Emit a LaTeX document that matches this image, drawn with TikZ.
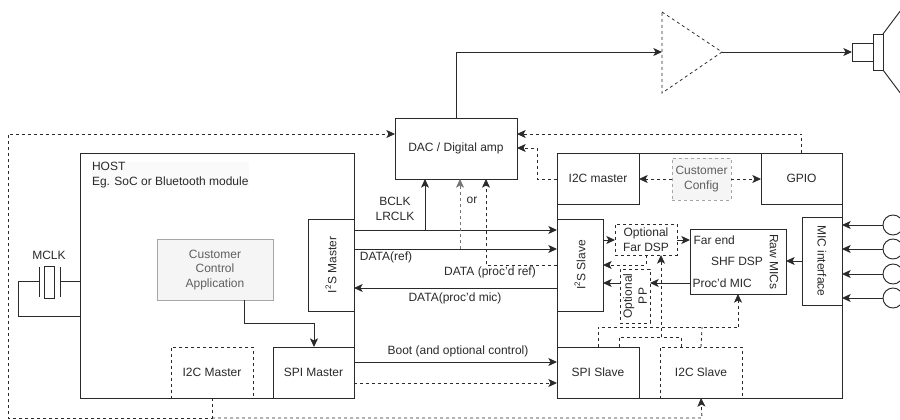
\documentclass[tikz,border=0pt]{standalone}
\usepackage{fontspec}
\setmainfont{Liberation Sans}
\usetikzlibrary{arrows.meta}
\definecolor{ink}{HTML}{2A2A2A}
\definecolor{txt}{HTML}{2A2A2A}
\definecolor{ccfill}{HTML}{F5F5F5}
\definecolor{ccline}{HTML}{A6A6A6}
\definecolor{cctxt}{HTML}{5F5F5F}
\definecolor{hostbg}{HTML}{FAFAFB}
\tikzset{
  every node/.style={font=\fontsize{9}{11.2}\selectfont,text=txt,inner sep=0pt,outer sep=0pt},
  boxs/.style={draw=ink,line width=0.7pt,fill=white,align=center},
  dbox/.style={boxs,dash pattern=on 2.25pt off 2.25pt,line width=0.6pt},
  ccbox/.style={draw=ccline,line width=0.7pt,fill=ccfill,text=cctxt,align=center},
  lab/.style={align=center},
  wire/.style={draw=ink,line width=0.7pt},
  arr/.style={wire,-{Stealth[length=6.5pt,width=6pt,inset=1.6pt]}},
  darr/.style={arr,line width=0.6pt,dash pattern=on 2.25pt off 2.25pt},
  dwire/.style={wire,line width=0.6pt,dash pattern=on 2.25pt off 2.25pt},
  greyd/.style={darr,draw=ink!65}
}
\newcommand{\areabox}[7][]{\node[#2,#1,minimum width={(#5-#4)*0.75pt},minimum height={(#7-#6)*0.75pt}] (#3) at ({(#4+#5)/2},{(#6+#7)/2})}
\begin{document}
\begin{tikzpicture}[x=0.75pt,y=-0.75pt]
\useasboundingbox (0,0) rectangle (900,420);
\clip (0,0) rectangle (900,420);
% main blocks
\areabox{boxs}{host}{80}{354}{153}{398} {};
\areabox{boxs}{dut}{557}{842}{153}{398} {};
\areabox{boxs}{dac}{395}{517}{118}{179} {DAC / Digital amp};
\node[anchor=north west,lab,align=left,fill=hostbg] (hostlabel) at (92,162.5) {HOST\\Eg. SoC or Bluetooth module};
\areabox{ccbox}{app}{157}{273}{239.5}{300.5} {Customer\\Control\\Application};
\areabox[]{boxs}{i2sm}{308}{354}{219}{311} {};
\node[rotate=90] (i2smt) at (i2sm) {I\textsuperscript{2}S Master};
\areabox{dbox}{i2cm}{171}{253}{347}{398} {I2C Master};
\areabox{boxs}{spim}{273}{354}{347}{398} {SPI Master};
% right block
\areabox{boxs}{i2cmr}{557}{639}{153}{204} {I2C master};
\areabox{boxs}{gpio}{761}{842}{153}{204} {GPIO};
\areabox[dash pattern=on 2.25pt off 2.25pt]{ccbox}{cfg}{672}{731}{158}{200} {Customer\\Config};
\areabox{boxs}{i2ss}{557}{603}{219}{311} {};
\node[rotate=90] (i2sst) at (i2ss) {I\textsuperscript{2}S Slave};
\areabox{dbox}{far}{615}{677}{224}{255} {Optional\\Far DSP};
\areabox{boxs}{shf}{690}{786}{229}{294} {};
\node (shft) at (737,261.5) {SHF DSP};
\node[anchor=west] (fart) at (693.5,240) {Far end};
\node[anchor=west] (proct) at (692.5,283) {Proc'd MIC};
\node[rotate=-90] (rawt) at (774,262) {Raw MICs};
\areabox{boxs}{mic}{802}{842}{217}{305} {};
\node[rotate=-90] (mict) at (mic) {MIC interface};
\areabox{dbox}{pp}{620}{650}{269}{323} {};
\node[rotate=90,align=center] (ppt) at (pp) {Optional\\PP};
\areabox{boxs}{spis}{557}{639}{347}{398} {SPI Slave};
\areabox{dbox}{i2cs}{660}{742}{347}{398} {I2C Slave};
% microphones
\foreach \n/\y in {a/225,b/249,c/274,d/298}{
  \node[draw=ink,line width=0.7pt,circle,minimum size=20*0.75pt,fill=white] (m\n) at (893,\y) {};
  \draw[arr] (m\n.west) -- (mic.east |- m\n.west);
}
% amplifier
\coordinate (ampt) at (662,12);
\coordinate (ampb) at (662,93);
\coordinate (ampi) at (662,52);
\coordinate (ampo) at (722,52);
\draw[dwire] (ampt) -- (ampo) -- (ampb) -- cycle;
\draw[arr] (dac.north) -- (dac.north |- ampi) -- (ampi);
% speaker
\areabox{boxs}{spk}{852}{873}{43}{61} {};
\areabox{boxs}{spkb}{873}{883}{34}{70} {};
\draw[wire] (spkb.north east) -- (901,10);
\draw[wire] (spkb.south east) -- (901,94);
\draw[arr] (ampo) -- (spk.west);
% crystal
\node[draw=ink,line width=0.7pt,minimum width=10*0.75pt,minimum height=32*0.75pt] (xtal) at (49,282) {};
\coordinate (pl) at (39,281);
\coordinate (pr) at (60,281);
\draw[wire] (39,267) -- (39,297);
\draw[wire] (60,267) -- (60,297);
\draw[wire] (pl) -- (18,281) -- (18,316) -- (host.west |- 0,316);
\draw[wire] (pr) -- (host.west |- pr);
\node (mclk) at (49,255) {MCLK};
% host connectors
\draw[arr] (app.south -| 244,0) -- (244,323) -- (314,323) -- (spim.north -| 314,0);
\draw[arr] (i2sm.east |- 0,230) -- (i2ss.west |- 0,230);
\draw[arr] (425,230) -- (dac.south -| 425,0);
\draw[arr] (i2sm.east |- 0,249) -- (i2ss.west |- 0,249);
\draw[greyd] (460,249) -- (dac.south -| 460,0);
\draw[darr] (i2ss.west |- 0,265.5) -- (486,265.5) -- (dac.south -| 486,0);
\draw[arr] (i2ss.west |- 0,288) -- (i2sm.east |- 0,288);
\draw[arr] (spim.east |- 0,362) -- (spis.west |- 0,362);
\draw[darr] (spim.east |- 0,383) -- (spis.west |- 0,383);
% DAC control
\draw[darr] (i2cmr.west |- 0,179) -- (537,179) -- (537,148) -- (dac.east |- 0,148);
\draw[darr] (gpio.north) -- (gpio.north |- 0,134) -- (dac.east |- 0,134);
\draw[darr] (i2cm.south) -- (212,418) -- (8,418) -- (8,134) -- (dac.west |- 0,134);
\draw[darr] (212,418) -- (702,418) -- (i2cs.south);
\draw[darr] (cfg.west) -- (i2cmr.east |- cfg.west);
\draw[darr] (cfg.east) -- (gpio.west |- cfg.east);
% inner connectors
\draw[arr] (i2ss.east |- 0,240) -- (far.west |- 0,240);
\draw[arr] (far.east |- 0,240) -- (shf.west |- 0,240);
\draw[darr] (far.south -| 646,0) -- (646,265) -- (i2ss.east |- 0,265);
\draw[arr] (pp.west |- 0,283) -- (i2ss.east |- 0,283);
\draw[arr] (shf.west |- 0,283) -- (pp.east |- 0,283);
\draw[arr] (mic.west |- 0,261) -- (shf.east |- 0,261);
\draw[dwire] (spis.north -| 598,0) -- (598,327) -- (738,327);
\draw[darr] (738,327) -- (shf.south -| 738,0);
\draw[dwire] (i2cs.north) -- (702,327);
\draw[dwire] (spis.north -| 619,0) -- (619,337) -- (661,337);
\draw[darr] (661,337) -- (far.south -| 661,0);
\draw[dwire] (i2cs.north -| 681,0) -- (681,337) -- (661,337);
% connector labels
\node[lab] (bclk) at (395,201.5) {BCLK};
\node[lab] (lrclk) at (395,216.5) {LRCLK};
\node (ort) at (472,200.5) {or};
\node (dref) at (386,257.5) {DATA(ref)};
\node (dpref) at (490,272.5) {DATA (proc'd ref)};
\node (dpmic) at (455,298.5) {DATA(proc'd mic)};
\node (boot) at (458,351.5) {Boot (and optional control)};
\end{tikzpicture}
\end{document}
